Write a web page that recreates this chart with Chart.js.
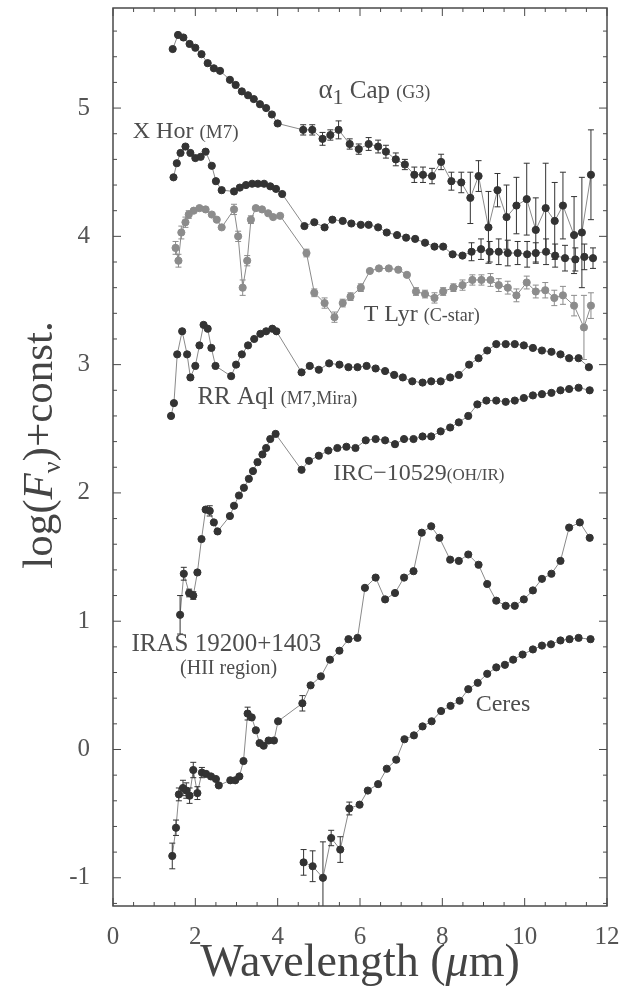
<!DOCTYPE html>
<html>
<head>
<meta charset="utf-8">
<script src="https://cdn.jsdelivr.net/npm/chart.js@4.4.1/dist/chart.umd.min.js"></script>
<style>
html, body { margin: 0; padding: 0; background: #fff; }
</style>
</head>
<body>
<canvas id="c" width="632" height="993"></canvas>
<script>
// wavelength (um) / log(Fnu)+const, one pair of arrays per object
const capX = [1.45,1.58,1.71,1.86,2.0,2.15,2.3,2.45,2.6,2.84,2.98,3.13,3.28,3.42,3.57,3.72,3.86,4.0,4.62,4.84,5.09,5.28,5.48,5.75,5.97,6.21,6.44,6.63,6.87,7.09,7.32,7.53,7.75,7.97,8.22,8.46,8.68,8.88,9.12,9.34,9.56,9.8,10.05,10.27,10.51,10.73,10.93,11.2,11.39,11.61];
const capY = [5.46,5.57,5.55,5.50,5.47,5.42,5.35,5.31,5.29,5.22,5.18,5.13,5.10,5.07,5.03,5.0,4.95,4.88,4.83,4.83,4.76,4.79,4.83,4.72,4.68,4.72,4.70,4.66,4.60,4.56,4.48,4.48,4.47,4.58,4.43,4.42,4.30,4.47,4.07,4.36,4.15,4.24,4.29,4.05,4.22,4.12,4.24,4.01,4.03,4.48];
const capErr = [0,0,0,0,0,0,0,0,0,0,0,0,0,0,0,0,0,0,0.04,0.04,0.05,0.04,0.07,0.04,0.04,0.05,0.05,0.05,0.05,0.04,0.06,0.06,0.06,0.06,0.07,0.08,0.2,0.12,0.28,0.13,0.25,0.22,0.28,0.25,0.35,0.3,0.26,0.3,0.43,0.35];

const xhorX = [1.47,1.55,1.64,1.76,1.88,2.0,2.13,2.25,2.4,2.5,2.64,2.94,3.08,3.23,3.38,3.52,3.67,3.82,3.96,4.11,4.65,4.89,5.14,5.33,5.58,5.79,6.02,6.21,6.44,6.65,6.90,7.12,7.34,7.58,7.81,8.02,8.25,8.49,8.71,8.94,9.15,9.37,9.59,9.83,10.06,10.27,10.52,10.74,10.98,11.23,11.45,11.66];
const xhorY = [4.46,4.57,4.65,4.70,4.65,4.61,4.62,4.66,4.55,4.43,4.36,4.35,4.38,4.40,4.41,4.41,4.41,4.39,4.37,4.33,4.08,4.11,4.07,4.13,4.12,4.10,4.09,4.09,4.07,4.03,4.01,3.99,3.98,3.95,3.92,3.92,3.86,3.85,3.88,3.90,3.88,3.88,3.87,3.87,3.86,3.87,3.88,3.85,3.83,3.82,3.84,3.83];
const xhorErr = [0,0,0,0,0,0,0,0,0,0,0,0,0,0,0,0,0,0,0,0,0,0,0,0,0,0,0,0,0,0,0,0,0,0,0,0,0,0,0.07,0.08,0.08,0.1,0.1,0.09,0.1,0.08,0.1,0.09,0.1,0.09,0.1,0.08];

const tlyrX = [1.52,1.59,1.66,1.76,1.84,1.96,2.10,2.25,2.40,2.52,2.64,2.94,3.04,3.15,3.26,3.35,3.47,3.62,3.77,3.89,4.06,4.70,4.89,5.14,5.38,5.58,5.77,6.02,6.24,6.46,6.70,6.93,7.14,7.36,7.58,7.81,8.02,8.27,8.49,8.73,8.95,9.17,9.37,9.59,9.80,10.05,10.27,10.50,10.72,10.93,11.20,11.44,11.61];
const tlyrY = [3.91,3.81,4.03,4.11,4.17,4.20,4.22,4.21,4.17,4.13,4.07,4.21,4.00,3.60,3.81,4.13,4.22,4.21,4.18,4.15,4.16,3.87,3.56,3.48,3.37,3.48,3.53,3.60,3.73,3.75,3.75,3.74,3.70,3.57,3.55,3.52,3.57,3.60,3.62,3.66,3.66,3.66,3.62,3.60,3.54,3.64,3.57,3.58,3.52,3.54,3.46,3.29,3.46];
const tlyrErr = [0.05,0.05,0.05,0.04,0.03,0,0,0,0,0,0,0.04,0.04,0.06,0.04,0.03,0,0,0,0,0,0.03,0.03,0.04,0.04,0.03,0.03,0.03,0,0,0,0,0,0.03,0.03,0.04,0.03,0.03,0.04,0.04,0.04,0.05,0.05,0.05,0.05,0.05,0.05,0.06,0.06,0.07,0.08,0.25,0.1];

const rraqlX = [1.41,1.48,1.56,1.68,1.80,1.88,2.0,2.10,2.20,2.30,2.39,2.49,2.87,2.99,3.13,3.28,3.43,3.58,3.72,3.87,3.97,4.58,4.78,5.0,5.25,5.5,5.72,5.94,6.16,6.38,6.61,6.83,7.04,7.27,7.52,7.73,7.96,8.19,8.40,8.65,8.88,9.09,9.31,9.54,9.76,9.98,10.20,10.42,10.65,10.87,11.08,11.31,11.56];
const rraqlY = [2.60,2.70,3.08,3.26,3.08,2.90,2.99,3.15,3.31,3.28,3.13,2.99,2.91,3.0,3.08,3.15,3.20,3.24,3.26,3.28,3.26,2.94,2.99,2.96,3.01,3.0,2.98,2.98,2.99,2.97,2.95,2.92,2.90,2.87,2.86,2.87,2.87,2.90,2.92,3.0,3.05,3.11,3.16,3.16,3.16,3.15,3.13,3.11,3.10,3.08,3.05,3.05,2.98];

const ircX = [1.63,1.72,1.85,1.95,2.05,2.15,2.25,2.35,2.45,2.54,2.84,2.94,3.06,3.18,3.30,3.40,3.51,3.63,3.72,3.82,3.95,4.58,4.76,5.0,5.23,5.45,5.67,5.89,6.14,6.38,6.61,6.85,7.07,7.30,7.52,7.73,7.96,8.19,8.40,8.63,8.85,9.07,9.31,9.54,9.76,9.98,10.20,10.42,10.65,10.87,11.08,11.31,11.58];
const ircY = [1.05,1.37,1.22,1.20,1.38,1.64,1.87,1.86,1.77,1.70,1.82,1.90,1.98,2.04,2.11,2.17,2.24,2.30,2.35,2.42,2.46,2.18,2.25,2.29,2.33,2.35,2.36,2.35,2.41,2.42,2.41,2.38,2.42,2.42,2.44,2.44,2.48,2.51,2.55,2.60,2.69,2.72,2.72,2.71,2.72,2.74,2.76,2.77,2.78,2.80,2.81,2.82,2.80];
const ircErr = [0.15,0.05,0.03,0.03,0,0,0,0.04,0,0,0];

const irasX = [1.44,1.53,1.60,1.70,1.78,1.86,1.95,2.05,2.16,2.26,2.38,2.50,2.57,2.85,2.97,3.07,3.17,3.27,3.37,3.47,3.56,3.66,3.78,3.91,4.01,4.60,4.80,5.05,5.27,5.50,5.72,5.94,6.12,6.38,6.61,6.85,7.07,7.30,7.50,7.73,7.93,8.19,8.40,8.63,8.88,9.09,9.31,9.54,9.76,9.98,10.20,10.42,10.65,10.87,11.08,11.34,11.58];
const irasY = [-0.83,-0.61,-0.35,-0.30,-0.32,-0.36,-0.16,-0.34,-0.18,-0.19,-0.21,-0.23,-0.28,-0.24,-0.24,-0.21,-0.09,0.28,0.25,0.15,0.05,0.03,0.07,0.07,0.22,0.36,0.50,0.57,0.70,0.77,0.86,0.87,1.26,1.34,1.17,1.22,1.34,1.39,1.69,1.74,1.65,1.48,1.47,1.52,1.44,1.29,1.16,1.12,1.12,1.17,1.24,1.33,1.37,1.47,1.73,1.77,1.65];
const irasErr = [0.1,0.06,0.05,0.06,0.06,0.06,0.06,0.05,0.04,0,0,0,0,0,0,0,0,0.05,0,0,0,0,0,0,0,0.06];

const ceresX = [4.63,4.85,5.10,5.30,5.52,5.74,5.99,6.19,6.44,6.65,6.88,7.08,7.31,7.52,7.74,7.97,8.20,8.42,8.63,8.86,9.09,9.31,9.52,9.72,9.95,10.20,10.42,10.64,10.87,11.09,11.31,11.60];
const ceresY = [-0.88,-0.91,-1.0,-0.69,-0.78,-0.46,-0.43,-0.32,-0.27,-0.15,-0.08,0.08,0.11,0.18,0.22,0.30,0.34,0.38,0.47,0.52,0.59,0.64,0.66,0.70,0.74,0.78,0.81,0.82,0.85,0.86,0.87,0.86];
const ceresErr = [0.1,0.12,0.28,0.06,0.1,0.05];

const xTicks = [0, 2, 4, 6, 8, 10, 12];
const yTicks = [-1, 0, 1, 2, 3, 4, 5];

const SERIF = '"Liberation Serif", "DejaVu Serif", serif';
const INK = '#333';

function pts(xs, ys) { return xs.map((x, i) => ({ x: x, y: ys[i] })); }

function series(label, xs, ys, err, color) {
    return {
        label: label,
        data: pts(xs, ys),
        err: err || [],
        showLine: true,
        borderColor: '#8a8a8a',
        borderWidth: 1,
        pointBackgroundColor: color,
        pointBorderColor: color,
        pointRadius: 3.6,
        pointStyle: 'circle',
        tension: 0
    };
}

// text labels next to each spectrum, in data units
const notes = [
    { x: 4.99, y: 5.08, parts: [['α', 27, 0], ['1', 22, 6], [' Cap ', 25, 0], ['(G3)', 18, 0]] },
    { x: 0.48, y: 4.77, parts: [['X Hor ', 24, 0], ['(M7)', 19, 0]] },
    { x: 6.09, y: 3.34, parts: [['T Lyr ', 24, 0], ['(C-star)', 18, 0]] },
    { x: 2.05, y: 2.69, parts: [['RR Aql ', 25, 0], ['(M7,Mira)', 18, 0]] },
    { x: 5.35, y: 2.10, parts: [['IRC−10529', 24, 0], ['(OH/IR)', 17, 0]] },
    { x: 0.45, y: 0.77, parts: [['IRAS 19200+1403', 25, 0]] },
    { x: 1.63, y: 0.59, parts: [['(HII region)', 20, 0]] },
    { x: 8.81, y: 0.30, parts: [['Ceres', 24, 0]] }
];

function drawParts(ctx, parts, x, y) {
    let cx = x;
    parts.forEach(p => {
        ctx.font = (p[3] || '') + ' ' + p[1] + 'px ' + SERIF;
        ctx.fillText(p[0], cx, y + p[2]);
        cx += ctx.measureText(p[0]).width;
    });
}

function partsWidth(ctx, parts) {
    let w = 0;
    parts.forEach(p => {
        ctx.font = (p[3] || '') + ' ' + p[1] + 'px ' + SERIF;
        w += ctx.measureText(p[0]).width;
    });
    return w;
}

const errorBars = {
    id: 'errorBars',
    afterDatasetsDraw(chart) {
        const ctx = chart.ctx, xs = chart.scales.x, ys = chart.scales.y, a = chart.chartArea;
        ctx.save();
        ctx.beginPath();
        ctx.rect(a.left, a.top, a.right - a.left, a.bottom - a.top);
        ctx.clip();
        chart.data.datasets.forEach(ds => {
            ctx.strokeStyle = ds.pointBorderColor;
            ctx.lineWidth = 1;
            ds.data.forEach((p, i) => {
                const e = ds.err[i];
                if (!e) return;
                const px = xs.getPixelForValue(p.x);
                const y1 = ys.getPixelForValue(p.y - e), y2 = ys.getPixelForValue(p.y + e);
                ctx.beginPath();
                ctx.moveTo(px, y1); ctx.lineTo(px, y2);
                ctx.moveTo(px - 3, y1); ctx.lineTo(px + 3, y1);
                ctx.moveTo(px - 3, y2); ctx.lineTo(px + 3, y2);
                ctx.stroke();
            });
        });
        ctx.restore();
    }
};

const frame = {
    id: 'frame',
    afterDraw(chart) {
        const ctx = chart.ctx, xs = chart.scales.x, ys = chart.scales.y, a = chart.chartArea;
        ctx.save();
        ctx.strokeStyle = '#4a4a4a';
        ctx.lineWidth = 1.5;
        ctx.strokeRect(a.left, a.top, a.right - a.left, a.bottom - a.top);
        ctx.lineWidth = 1;
        ctx.beginPath();
        for (let v = 0; v <= 12.001; v += 0.5) {
            const px = xs.getPixelForValue(v);
            const len = Math.abs(v % 2) < 0.01 ? 8 : 4;
            ctx.moveTo(px, a.bottom); ctx.lineTo(px, a.bottom - len);
            ctx.moveTo(px, a.top); ctx.lineTo(px, a.top + len);
        }
        for (let k = -6; k <= 29; k++) {
            const v = k * 0.2;
            if (v < ys.min || v > ys.max) continue;
            const py = ys.getPixelForValue(v);
            const len = k % 5 === 0 ? 8 : 4;
            ctx.moveTo(a.left, py); ctx.lineTo(a.left + len, py);
            ctx.moveTo(a.right, py); ctx.lineTo(a.right - len, py);
        }
        ctx.stroke();

        // spectrum labels
        ctx.fillStyle = '#4d4d4d';
        ctx.textBaseline = 'alphabetic';
        ctx.textAlign = 'left';
        notes.forEach(n => drawParts(ctx, n.parts, xs.getPixelForValue(n.x), ys.getPixelForValue(n.y)));

        // axis titles
        ctx.fillStyle = '#444';
        const xt = [['Wavelength (', 46, 0], ['μ', 46, 0, 'italic'], ['m)', 46, 0]];
        const cx = (a.left + a.right) / 2;
        drawParts(ctx, xt, cx - partsWidth(ctx, xt) / 2, 976);

        const yt = [['log(', 43, 0], ['F', 43, 0, 'italic'], ['ν', 26, 8], [')+const.', 43, 0]];
        ctx.translate(52, 445);
        ctx.rotate(-Math.PI / 2);
        drawParts(ctx, yt, -partsWidth(ctx, yt) / 2, 0);
        ctx.restore();
    }
};

new Chart(document.getElementById('c'), {
    type: 'scatter',
    data: {
        datasets: [
            series('α1 Cap (G3)', capX, capY, capErr, INK),
            series('X Hor (M7)', xhorX, xhorY, xhorErr, INK),
            series('T Lyr (C-star)', tlyrX, tlyrY, tlyrErr, '#8c8c8c'),
            series('RR Aql (M7,Mira)', rraqlX, rraqlY, [], INK),
            series('IRC−10529 (OH/IR)', ircX, ircY, ircErr, INK),
            series('IRAS 19200+1403 (HII region)', irasX, irasY, irasErr, INK),
            series('Ceres', ceresX, ceresY, ceresErr, INK)
        ]
    },
    options: {
        responsive: false,
        animation: false,
        layout: { padding: { top: 8, right: 25, left: 0, bottom: 0 } },
        plugins: { legend: { display: false }, tooltip: { enabled: false } },
        scales: {
            x: {
                type: 'linear',
                min: 0, max: 12,
                afterBuildTicks: s => { s.ticks = xTicks.map(v => ({ value: v })); },
                afterFit: s => { s.height = 87; s.paddingLeft = 0; s.paddingRight = 0; },
                grid: { display: false },
                border: { display: false },
                ticks: { color: '#555', padding: 8, maxRotation: 0, font: { family: SERIF, size: 25 } }
            },
            y: {
                type: 'linear',
                min: -1.22, max: 5.78,
                afterBuildTicks: s => { s.ticks = yTicks.map(v => ({ value: v })); },
                afterFit: s => { s.width = 113; s.paddingTop = 0; s.paddingBottom = 0; },
                grid: { display: false },
                border: { display: false },
                ticks: { color: '#555', padding: 15, font: { family: SERIF, size: 25 } }
            }
        }
    },
    plugins: [errorBars, frame]
});
</script>
</body>
</html>
